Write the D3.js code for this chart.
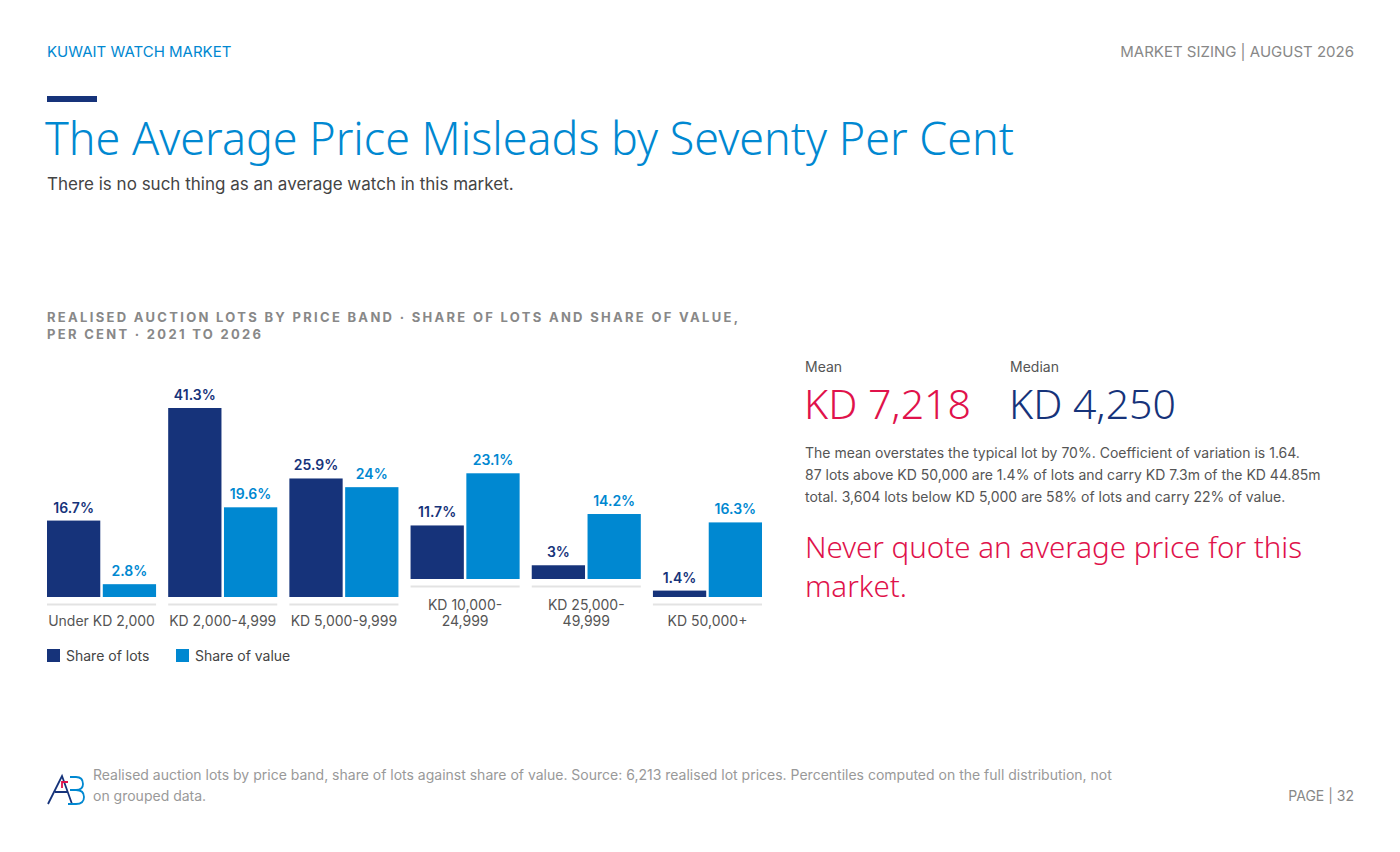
<!DOCTYPE html><html><head><meta charset="utf-8">
<script src="https://cdn.jsdelivr.net/npm/d3@7"></script>
<style>body{margin:0;background:#fff;font-family:Inter,sans-serif}svg{display:block}</style></head><body>
<svg id="c" width="1400" height="852"></svg>
<script>
const categories=[["Under KD 2,000"],["KD 2,000-4,999"],["KD 5,000-9,999"],["KD 10,000-","24,999"],["KD 25,000-","49,999"],["KD 50,000+"]];
const shareLots=[16.7,41.3,25.9,11.7,3,1.4];
const shareValue=[2.8,19.6,24,23.1,14.2,16.3];
const seriesNames=["Share of lots","Share of value"];
const DARK="#16337a",LIGHT="#0088d1",RED="#e0124b";
const svg=d3.select("#c");
const T=(x,y,s,o)=>{const t=svg.append("text").attr("x",x).attr("y",y).text(s);for(const k in o)t.attr(k,o[k]);return t;};
T(47,57,"KUWAIT WATCH MARKET",{fill:LIGHT,"font-size":15});
T(1354,57,"MARKET SIZING | AUGUST 2026",{fill:"#888","font-size":15,"text-anchor":"end"});
svg.append("rect").attr("x",47).attr("y",96).attr("width",50).attr("height",6).attr("fill",DARK);
T(45,155,"The Average Price Misleads by Seventy Per Cent",{fill:LIGHT,"font-size":45,"font-family":"'Noto Sans'","font-weight":300,"textLength":969,"lengthAdjust":"spacingAndGlyphs"});
T(47,190,"There is no such thing as an average watch in this market.",{fill:"#444","font-size":17});
T(47,322,"REALISED AUCTION LOTS BY PRICE BAND · SHARE OF LOTS AND SHARE OF VALUE,",{fill:"#888","font-size":13,"font-weight":700,"letter-spacing":"2.3px"});
T(47,339,"PER CENT · 2021 TO 2026",{fill:"#888","font-size":13,"font-weight":700,"letter-spacing":"2.3px"});
const x=d3.scaleBand().domain(d3.range(6)).range([47,762]).paddingInner(0.1).paddingOuter(0);
const xs=d3.scaleBand().domain([0,1]).range([0,x.bandwidth()]).paddingInner(0.045);
const h=d3.scaleLinear().domain([0,41.3]).range([0,189]);
categories.forEach((c,i)=>{
  const base=c.length>1?579:597;
  const g=svg.append("g").attr("transform",`translate(${x(i)},0)`);
  g.append("line").attr("x1",0).attr("x2",x.bandwidth()).attr("y1",base+7.5).attr("y2",base+7.5).attr("stroke","#e3e3e3").attr("stroke-width",2);
  [shareLots[i],shareValue[i]].forEach((v,j)=>{
    g.append("rect").attr("x",xs(j)).attr("width",xs.bandwidth()).attr("y",base-h(v)).attr("height",h(v)).attr("fill",j?LIGHT:DARK);
    g.append("text").attr("x",xs(j)+xs.bandwidth()/2).attr("y",base-h(v)-8).attr("text-anchor","middle").attr("font-size",14).attr("font-weight",600).attr("fill",j?LIGHT:DARK).text(v+"%");
  });
  c.forEach((l,k)=>g.append("text").attr("x",x.bandwidth()/2).attr("y",626-(c.length-1-k)*16).attr("text-anchor","middle").attr("font-size",14).attr("fill","#555").text(l));
});
seriesNames.forEach((n,j)=>{const lx=47+j*129;svg.append("rect").attr("x",lx).attr("y",649).attr("width",13).attr("height",13).attr("fill",j?LIGHT:DARK);T(lx+19,661,n,{fill:"#444","font-size":14});});
T(805,372,"Mean",{fill:"#555","font-size":14});T(1010,372,"Median",{fill:"#555","font-size":14});
T(804,419,"KD 7,218",{fill:RED,"font-size":41,"font-family":"'Noto Sans'","font-weight":300});
T(1009,419,"KD 4,250",{fill:DARK,"font-size":41,"font-family":"'Noto Sans'","font-weight":300});
["The mean overstates the typical lot by 70%. Coefficient of variation is 1.64.","87 lots above KD 50,000 are 1.4% of lots and carry KD 7.3m of the KD 44.85m","total. 3,604 lots below KD 5,000 are 58% of lots and carry 22% of value."].forEach((l,i)=>T(805,458+i*22,l,{fill:"#555","font-size":14}));
T(805,558,"Never quote an average price for this",{fill:RED,"font-size":29.5,"font-family":"'Noto Sans'","font-weight":300});
T(805,597,"market.",{fill:RED,"font-size":29.5,"font-family":"'Noto Sans'","font-weight":300});
const lg=svg.append("g").attr("fill","none").attr("stroke-width",1.8);
lg.append("path").attr("d","M48,804 L62,776 L72,804 M55,792 L68,792").attr("stroke",DARK);
lg.append("path").attr("d","M62,788 L62,782 L68,782").attr("stroke",RED);
lg.append("path").attr("d","M70,777 L76,777 Q83,777 83,784 Q83,790 76,790 L70,790 M76,790 Q84,790 84,797 Q84,804 76,804 L68,804").attr("stroke",LIGHT);
T(93,780,"Realised auction lots by price band, share of lots against share of value. Source: 6,213 realised lot prices. Percentiles computed on the full distribution, not",{fill:"#999","font-size":14});
T(93,801,"on grouped data.",{fill:"#999","font-size":14});
T(1354,801,"PAGE | 32",{fill:"#888","font-size":14,"text-anchor":"end"});
</script></body></html>
